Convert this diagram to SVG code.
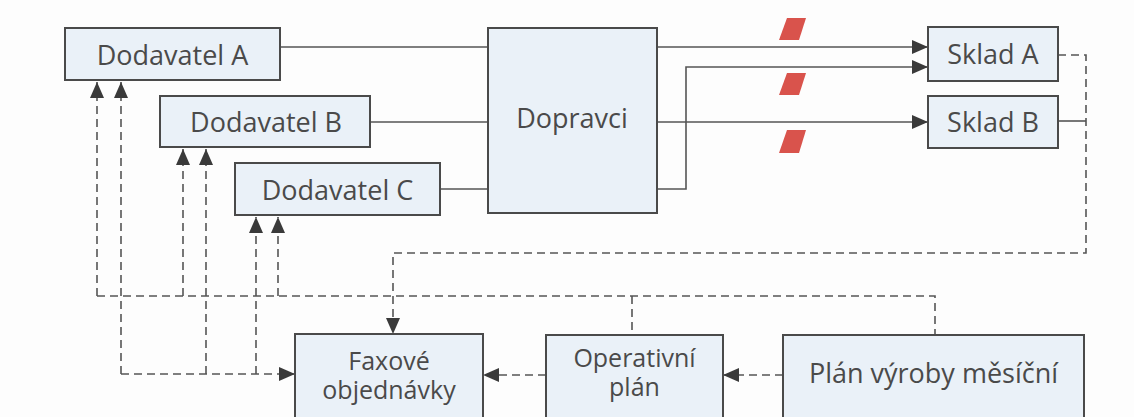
<svg xmlns="http://www.w3.org/2000/svg" width="1134" height="417" viewBox="0 0 1134 417">
<defs>
<style>
.box{fill:#eaf1f8;stroke:#4a4a4a;stroke-width:2}
.t{font-family:"Open Sans","Noto Sans","Liberation Sans",sans-serif;font-size:27px;fill:#4a4a4a;text-anchor:middle}
.t2{font-size:25px}
.s{fill:none;stroke:#555;stroke-width:1.6}
.d{fill:none;stroke:#555;stroke-width:1.6;stroke-dasharray:8 5}
.red{fill:#d9534c}
</style>
<marker id="ah" viewBox="0 0 16 14" refX="16" refY="7" markerWidth="16" markerHeight="14" markerUnits="userSpaceOnUse" orient="auto">
<path d="M0,0 L16,7 L0,14 Z" fill="#3a3a3a"/>
</marker>
</defs>
<rect width="1134" height="417" fill="#fdfdfd"/>
<g id="connectors">
<path class="s" d="M280,47 H488"/>
<path class="s" d="M370,122 H488"/>
<path class="s" d="M440,189 H488"/>
<path class="s" d="M657,47 H928" marker-end="url(#ah)"/>
<path class="s" d="M657,189 H686 V67 H928" marker-end="url(#ah)"/>
<path class="s" d="M657,122 H928" marker-end="url(#ah)"/>
<path class="s" d="M1058,121 H1086"/>
<path class="d" d="M1058,55 H1086 V253 H393 V334" marker-end="url(#ah)"/>
<path class="d" d="M97,296 V82" marker-end="url(#ah)"/>
<path class="d" d="M183,296 V149" marker-end="url(#ah)"/>
<path class="d" d="M278,296 V217" marker-end="url(#ah)"/>
<path class="d" d="M121,374 V82" marker-end="url(#ah)"/>
<path class="d" d="M206,374 V149" marker-end="url(#ah)"/>
<path class="d" d="M256,374 V217" marker-end="url(#ah)"/>
<path class="d" d="M97,296 H935 V335"/>
<path class="d" d="M632,296 V335"/>
<path class="d" d="M121,374 H295" marker-end="url(#ah)"/>
<path class="d" d="M783,375 H723" marker-end="url(#ah)"/>
<path class="d" d="M546,375 H483" marker-end="url(#ah)"/>
</g>
<g id="breaks">
<polygon class="red" points="787,18 806,18 799,40 779,40"/>
<polygon class="red" points="787,73 806,73 799,95 779,95"/>
<polygon class="red" points="787,130 806,130 799,153 779,153"/>
</g>
<g id="dodavatel-a"><rect class="box" x="65" y="28" width="215" height="52"/><text class="t" x="172.5" y="64.5">Dodavatel A</text></g>
<g id="dodavatel-b"><rect class="box" x="160" y="96" width="210" height="51"/><text class="t" x="266" y="131.5">Dodavatel B</text></g>
<g id="dodavatel-c"><rect class="box" x="235" y="163" width="205" height="52"/><text class="t" x="337.5" y="199.5">Dodavatel C</text></g>
<g id="dopravci"><rect class="box" x="488" y="28" width="169" height="185"/><text class="t" x="572" y="128">Dopravci</text></g>
<g id="sklad-a"><rect class="box" x="928" y="27" width="130" height="54"/><text class="t" x="993" y="64">Sklad A</text></g>
<g id="sklad-b"><rect class="box" x="928" y="96" width="130" height="52"/><text class="t" x="993" y="132">Sklad B</text></g>
<g id="faxove"><rect class="box" x="295" y="334" width="188" height="90"/><text class="t t2" x="389" y="370">Faxové</text><text class="t t2" x="389" y="399">objednávky</text></g>
<g id="operativni"><rect class="box" x="546" y="335" width="177" height="90"/><text class="t t2" x="634.5" y="367">Operativní</text><text class="t t2" x="634.5" y="396">plán</text></g>
<g id="plan"><rect class="box" x="783" y="335" width="301" height="90"/><text class="t" x="933.5" y="383">Plán výroby měsíční</text></g>
</svg>
